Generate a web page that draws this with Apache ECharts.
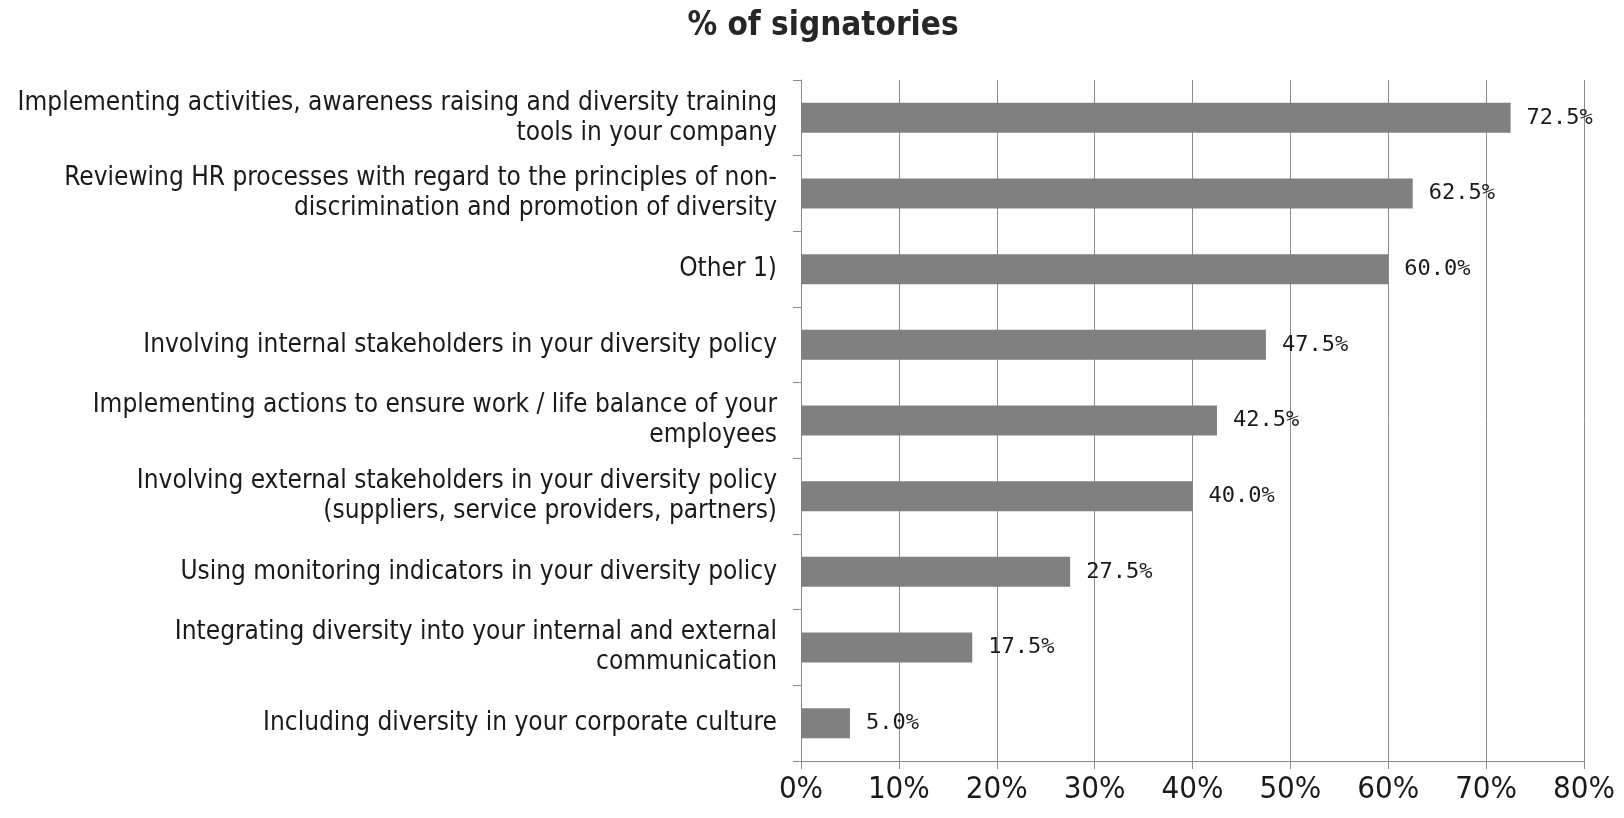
<!DOCTYPE html>
<html>
<head>
<meta charset="utf-8">
<script src="https://cdn.jsdelivr.net/npm/echarts@6/dist/echarts.min.js"></script>
<style>
  html, body { margin: 0; padding: 0; background: #fff; }
  #chart { width: 1624px; height: 818px; }
</style>
</head>
<body>
<div id="chart"></div>
<script>
// Actions taken by signatories, listed top to bottom
const categories = [
  'Implementing activities, awareness raising and diversity training\ntools in your company',
  'Reviewing HR processes with regard to the principles of non-\ndiscrimination and promotion of diversity',
  'Other 1)',
  'Involving internal stakeholders in your diversity policy',
  'Implementing actions to ensure work / life balance of your\nemployees',
  'Involving external stakeholders in your diversity policy\n(suppliers, service providers, partners)',
  'Using monitoring indicators in your diversity policy',
  'Integrating diversity into your internal and external\ncommunication',
  'Including diversity in your corporate culture'
];
// Share of signatories (%)
const shares = [72.5, 62.5, 60.0, 47.5, 42.5, 40.0, 27.5, 17.5, 5.0];
const titleText = '% of signatories';

const FONT = '"DejaVu Sans Condensed", "DejaVu Sans", sans-serif';

const chart = echarts.init(document.getElementById('chart'), null, { renderer: 'canvas' });
chart.setOption({
  animation: false,
  backgroundColor: '#ffffff',
  title: {
    text: titleText,
    left: 818,
    textAlign: 'center',
    top: 5,
    textStyle: { fontFamily: FONT, fontSize: 33, fontWeight: 'bold', color: '#262626' }
  },
  grid: { left: 801, right: 40, top: 80, bottom: 57, containLabel: false },
  xAxis: {
    type: 'value',
    min: 0,
    max: 80,
    interval: 10,
    axisLine: { show: true, lineStyle: { color: '#8c8c8c', width: 1 } },
    axisTick: { show: true, length: 8, lineStyle: { color: '#8c8c8c' } },
    splitLine: { show: true, lineStyle: { color: '#8c8c8c', width: 1 } },
    axisLabel: {
      formatter: v => v + '%',
      fontFamily: FONT,
      fontSize: 31,
      color: '#1a1a1a',
      margin: 13
    }
  },
  yAxis: {
    type: 'category',
    inverse: true,
    data: categories,
    axisLine: { show: true, lineStyle: { color: '#8c8c8c', width: 1 } },
    axisTick: { show: true, length: 8, lineStyle: { color: '#8c8c8c' } },
    splitLine: { show: false },
    axisLabel: {
      fontFamily: FONT,
      fontSize: 26,
      lineHeight: 30,
      color: '#1a1a1a',
      margin: 24,
      align: 'right'
    }
  },
  series: [{
    type: 'bar',
    data: shares,
    barWidth: 30,
    itemStyle: { color: '#808080' },
    label: {
      show: true,
      position: 'right',
      distance: 16,
      formatter: p => p.value.toFixed(1) + '%',
      fontFamily: '"DejaVu Sans Mono", monospace',
      fontSize: 22,
      color: '#1a1a1a'
    }
  }]
});
</script>
</body>
</html>
